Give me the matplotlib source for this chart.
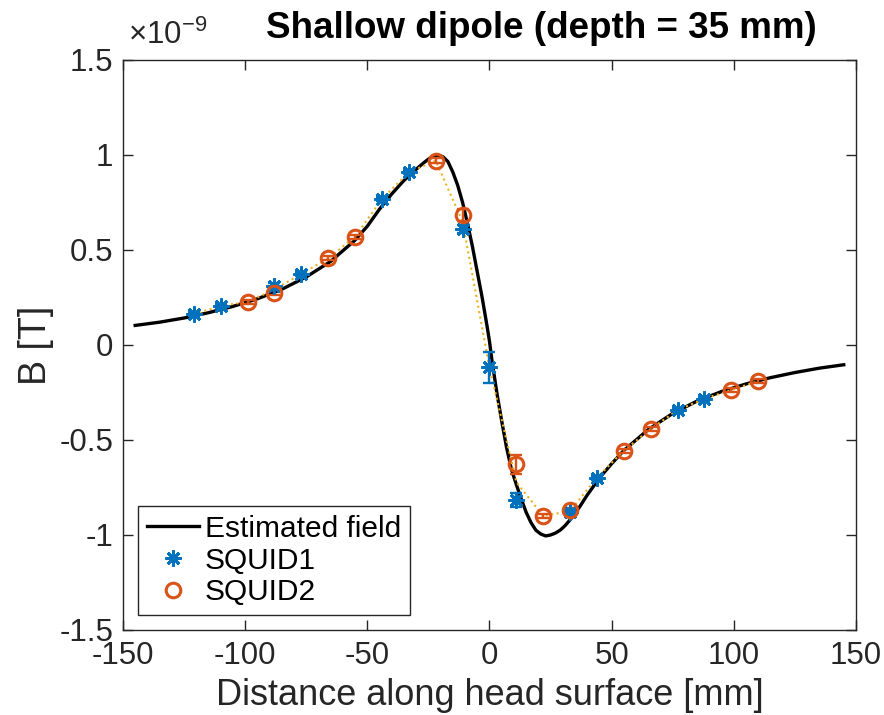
import numpy as np
import matplotlib
matplotlib.use("Agg")
from matplotlib import pyplot as plt

plt.rcParams['font.family'] = ['Liberation Sans', 'DejaVu Sans']
plt.rcParams['axes.unicode_minus'] = False
plt.rcParams['mathtext.fontset'] = 'custom'
plt.rcParams['mathtext.rm'] = 'Liberation Sans'

# estimated field (units of 1e-9 T)
fit_x = [-145, -135, -125, -115, -105, -95, -85, -75, -65, -55, -50, -45, -40, -35,
         -30, -27, -25, -23, -21, -19, -17, -15, -13, -11, -9, -7, -5, -3, -1, 0,
         1, 3, 5, 7, 9, 11, 13, 15, 17, 19, 21, 23, 25, 27, 29, 31, 34, 37, 40,
         45, 50, 55, 65, 75, 85, 95, 105, 115, 125, 135, 145]
fit_b = [0.103, 0.120, 0.142, 0.170, 0.203, 0.243, 0.293, 0.358, 0.440, 0.552, 0.625,
         0.715, 0.795, 0.866, 0.925, 0.958, 0.978, 0.993, 1.0, 0.99, 0.965, 0.91,
         0.84, 0.75, 0.64, 0.52, 0.385, 0.25, 0.10, 0.02,
         -0.08, -0.25, -0.40, -0.54, -0.655, -0.735, -0.81, -0.88, -0.935, -0.975,
         -0.995, -1.005, -1.0, -0.99, -0.974, -0.95, -0.905, -0.85, -0.79,
         -0.70, -0.625, -0.555, -0.445, -0.36, -0.295, -0.245, -0.205, -0.172,
         -0.145, -0.122, -0.104]

# SQUID1 measurements
s1_x = [-121, -110, -88, -77, -44, -33, -11, 0, 11, 33, 44, 77, 88]
s1_b = [0.161, 0.207, 0.31, 0.374, 0.768, 0.909, 0.612, -0.118, -0.816, -0.877,
        -0.698, -0.342, -0.283]
s1_err = [0.01, 0.01, 0.015, 0.01, 0.01, 0.01, 0.02, 0.083, 0.035, 0.01, 0.01, 0.01, 0.01]

# SQUID2 measurements
s2_x = [-99, -88, -66, -55, -22, -11, 11, 22, 33, 55, 66, 99, 110]
s2_b = [0.226, 0.275, 0.456, 0.57, 0.97, 0.684, -0.628, -0.9, -0.87, -0.556,
        -0.442, -0.237, -0.19]
s2_err = [0.012, 0.012, 0.01, 0.01, 0.012, 0.03, 0.05, 0.012, 0.012, 0.01, 0.01, 0.01, 0.01]

# dotted line through the measurements (mean where both sensors overlap)
all_pts = {}
for xx, bb in list(zip(s1_x, s1_b)) + list(zip(s2_x, s2_b)):
    all_pts.setdefault(xx, []).append(bb)
dot_x = sorted(all_pts)
dot_b = [np.mean(all_pts[k]) for k in dot_x]

blue = '#0072BD'
orange = '#D95319'
yellow = '#EDB120'
grey = '#262626'

fig = plt.figure(figsize=(8.84, 7.15), dpi=100)
ax = fig.add_axes([0.1391, 0.1189, 0.8292, 0.7972])

ax.plot(fit_x, fit_b, color='black', lw=2.4, label='Estimated field', zorder=2)
ax.plot(dot_x, dot_b, color=yellow, lw=1.5, ls=':', zorder=3)
ax.errorbar(s1_x, s1_b, yerr=s1_err, fmt='none', ecolor=blue, elinewidth=1.7,
            capsize=4.5, capthick=1.7, zorder=4)
ax.plot(s1_x, s1_b, ls='none', marker=(8, 2, 0), ms=11.5, mew=2, color=blue,
        label='SQUID1', zorder=5)
ax.errorbar(s2_x, s2_b, yerr=s2_err, fmt='none', ecolor=orange, elinewidth=1.7,
            capsize=4.5, capthick=1.7, zorder=4)
ax.plot(s2_x, s2_b, ls='none', marker='o', ms=10.5, mew=2.2, mfc='none', color=orange,
        label='SQUID2', zorder=5)

ax.set_xlim(-150, 150)
ax.set_ylim(-1.5, 1.5)
ax.set_xticks([-150, -100, -50, 0, 50, 100, 150])
ax.set_yticks([-1.5, -1, -0.5, 0, 0.5, 1, 1.5])
ax.set_yticklabels(['-1.5', '-1', '-0.5', '0', '0.5', '1', '1.5'])
ax.tick_params(direction='in', length=7, width=1, colors=grey, labelsize=22.5,
               top=True, right=True)
ax.tick_params(axis='x', pad=8)
ax.tick_params(axis='y', pad=7)
for sp in ax.spines.values():
    sp.set_color(grey)
    sp.set_linewidth(1)

ax.set_xlabel('Distance along head surface [mm]', fontsize=26, color=grey, labelpad=5)
ax.set_ylabel('B [T]', fontsize=27, color=grey, labelpad=4)

fig.text(128 / 884, 1 - 44 / 715, r'$\times10^{-9}$', fontsize=22.5, color=grey,
         ha='left', va='baseline')
fig.text(541 / 884, 1 - 38 / 715, 'Shallow dipole (depth = 35 mm)', fontsize=26.5,
         fontweight='bold', ha='center', va='baseline')

leg = ax.legend(loc='lower left', fontsize=21.5, frameon=True, fancybox=False,
                edgecolor=grey, framealpha=1, labelspacing=0.12, handlelength=1.75,
                handletextpad=0.2, borderpad=0.3, borderaxespad=0.5)
leg.get_frame().set_linewidth(1)

fig.savefig('out.png', dpi=100)
